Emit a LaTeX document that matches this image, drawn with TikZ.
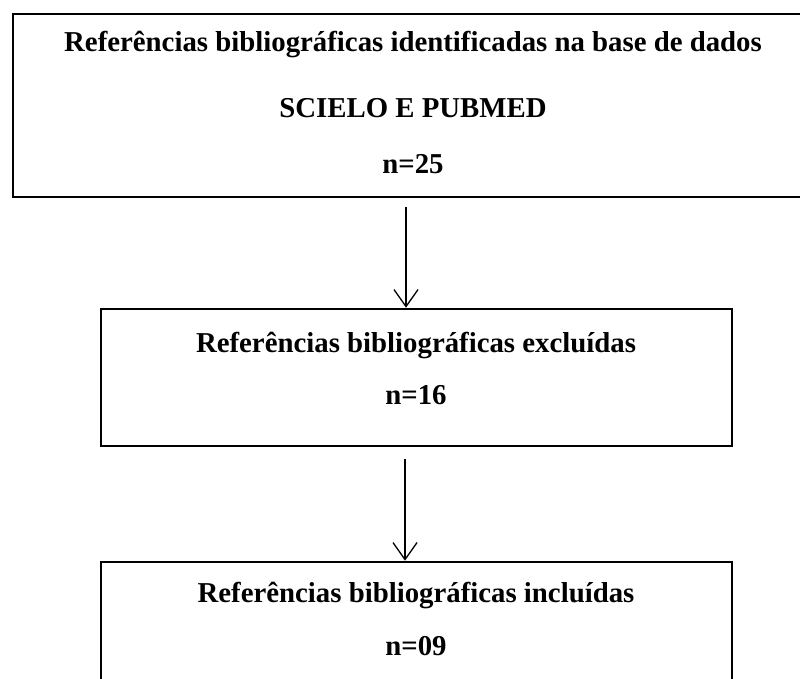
\documentclass[tikz,border=0pt]{standalone}
\usepackage{fontspec}
\setmainfont{Liberation Serif}
\usetikzlibrary{arrows.meta}
\tikzset{
  boxnode/.style={draw=black, line width=2.6pt, rectangle, inner sep=0pt},
  txt/.style={anchor=base, inner sep=0pt, font=\fontsize{28.8}{34}\selectfont\bfseries},
  arr/.style={draw=black, line width=1.3pt, -{Straight Barb[length=17pt,width=24pt,line width=1.3pt]}}
}
\begin{document}
\begin{tikzpicture}[x=1pt,y=-1pt]
\useasboundingbox (0,0) rectangle (800,679);
% boxes
\node[boxnode, minimum width=800pt, minimum height=183pt] (b1) at (413,105.5) {};
\node[boxnode, minimum width=631pt, minimum height=137pt] (b2) at (416.5,377.5) {};
\node[boxnode, minimum width=631pt, minimum height=137pt] (b3) at (416.5,630.5) {};
% texts
\node[txt] (t11) at (413,52) {Referências bibliográficas identificadas na base de dados};
\node[txt] (t12) at (413,118) {SCIELO E PUBMED};
\node[txt] (t13) at (413,174) {n=25};
\node[txt] (t21) at (416,352) {Referências bibliográficas excluídas};
\node[txt] (t22) at (416,404) {n=16};
\node[txt] (t31) at (416,602) {Referências bibliográficas incluídas};
\node[txt] (t32) at (416,655) {n=09};
% arrows
\coordinate (a1) at (406,207);
\coordinate (a2) at (405,459);
\draw[arr] (a1) -- (a1 |- b2.north);
\draw[arr] (a2) -- (a2 |- b3.north);
\end{tikzpicture}
\end{document}
